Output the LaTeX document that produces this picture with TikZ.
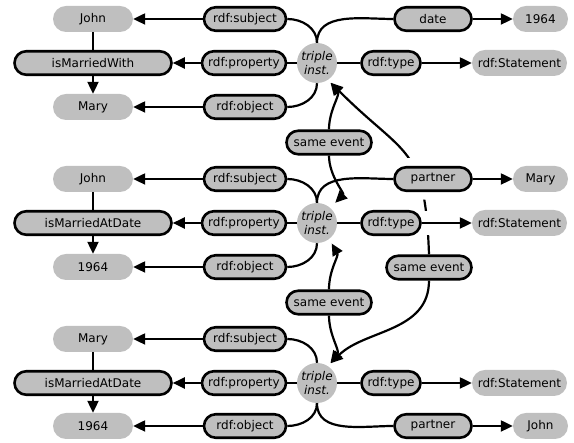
\documentclass[tikz,border=0pt]{standalone}
\usepackage{fontspec}
\setmainfont{DejaVu Sans}
\usetikzlibrary{arrows.meta}
\pgfdeclarelayer{back}
\pgfsetlayers{back,main}

\tikzset{
  base/.style={rectangle, fill=gray!50, text=black, inner sep=0pt,
    font=\fontsize{12}{14}\selectfont},
  val/.style={base, minimum height=26pt, rounded corners=13pt},
  rel/.style={base, draw=black, line width=2.6pt, minimum height=23.5pt,
    rounded corners=11.75pt},
  triple/.style={circle, fill=gray!50, minimum size=40pt, inner sep=0pt,
    align=center, font=\fontsize{12}{14.5}\selectfont\itshape},
  link/.style={line width=2.2pt, draw=black},
  arr/.style={link, -{Triangle[length=12pt,width=11pt]}},
  halo/.style={preaction={draw=white, line width=18pt}},
}

\begin{document}
\begin{tikzpicture}[x=1pt,y=1pt]
\useasboundingbox (0,0) rectangle (574,443);

% ---- statement 1: John isMarriedWith Mary
\node[val, minimum width=80pt]  (j1)  at (93,424)    {John};
\node[rel, minimum width=157pt] (p1)  at (93,380)    {isMarriedWith};
\node[val, minimum width=80pt]  (o1)  at (93,336)    {Mary};
\node[rel, minimum width=82pt]  (s1)  at (245,424)   {rdf:subject};
\node[rel, minimum width=84pt]  (pr1) at (244,380)   {rdf:property};
\node[rel, minimum width=82pt]  (ob1) at (245,336)   {rdf:object};
\node[triple]                   (t1)  at (317,380)   {triple\\inst.};
\node[rel, minimum width=59pt]  (ty1) at (391,380)   {rdf:type};
\node[val, minimum width=95pt]  (st1) at (519.5,380) {rdf:Statement};
\node[rel, minimum width=77pt]  (d1)  at (433,424)   {date};
\node[val, minimum width=55pt]  (dv1) at (540.5,424) {1964};

% ---- statement 2: John isMarriedAtDate 1964
\node[val, minimum width=80pt]  (j2)  at (93,264)    {John};
\node[rel, minimum width=157pt] (p2)  at (93,220)    {isMarriedAtDate};
\node[val, minimum width=80pt]  (o2)  at (93,176)    {1964};
\node[rel, minimum width=82pt]  (s2)  at (245,264)   {rdf:subject};
\node[rel, minimum width=84pt]  (pr2) at (244,220)   {rdf:property};
\node[rel, minimum width=82pt]  (ob2) at (245,176)   {rdf:object};
\node[triple]                   (t2)  at (317,220)   {triple\\inst.};
\node[rel, minimum width=59pt]  (ty2) at (391,220)   {rdf:type};
\node[val, minimum width=95pt]  (st2) at (519.5,220) {rdf:Statement};
\node[rel, halo, minimum width=77pt] (pa2) at (433,264) {partner};
\node[val, minimum width=55pt]  (m2)  at (540.5,264) {Mary};

% ---- statement 3: Mary isMarriedAtDate 1964
\node[val, minimum width=80pt]  (j3)  at (93,104)    {Mary};
\node[rel, minimum width=157pt] (p3)  at (93,60)     {isMarriedAtDate};
\node[val, minimum width=80pt]  (o3)  at (93,17)     {1964};
\node[rel, minimum width=82pt]  (s3)  at (245,104)   {rdf:subject};
\node[rel, minimum width=84pt]  (pr3) at (244,60)    {rdf:property};
\node[rel, minimum width=82pt]  (ob3) at (245,17)    {rdf:object};
\node[triple]                   (t3)  at (317,60)    {triple\\inst.};
\node[rel, minimum width=59pt]  (ty3) at (391,60)    {rdf:type};
\node[val, minimum width=95pt]  (st3) at (519.5,60)  {rdf:Statement};
\node[rel, minimum width=77pt]  (pa3) at (433,17)    {partner};
\node[val, minimum width=55pt]  (jj3) at (540.5,17)  {John};

% ---- "same event" links
\node[rel, minimum width=85pt] (se1) at (329,300.5) {same event};
\node[rel, minimum width=85pt] (se2) at (329,140.5) {same event};
\node[rel, minimum width=85pt] (se3) at (429,175.5) {same event};

% reified triple edges, one block at a time
\foreach \i in {1,2,3}{
  \draw[link] (j\i) -- (p\i);
  \draw[arr]  (p\i) -- (o\i);
  \draw[arr]  (s\i) -- (j\i);
  \draw[arr]  (pr\i) -- (p\i);
  \draw[arr]  (ob\i) -- (o\i);
  \draw[link] (s\i.east) to[out=0,in=90] (t\i.north);
  \draw[link] (pr\i) -- (t\i);
  \draw[link] (ob\i.east) to[out=0,in=-90] (t\i.south);
  \draw[link] (t\i) -- (ty\i);
  \draw[arr]  (ty\i) -- (st\i);
}
\draw[link] (t1.north) to[out=90,in=180] (d1.west);
\draw[arr]  (d1) -- (dv1);
\draw[link] (t2.north) to[out=90,in=180] (pa2.west);
\draw[arr]  (pa2) -- (m2);
\draw[link] (t3.south) to[out=-90,in=180] (pa3.west);
\draw[arr]  (pa3) -- (jj3);

% same event -> neighbouring triples
\draw[arr, shorten >=4pt] (se1.north) to[out=90,in=-50] (t1.-57);
\draw[arr, shorten >=7pt] (se1.south) to[out=-90,in=45] (t2.49);
\draw[arr, shorten >=5pt] (se2.north) to[out=90,in=-60] (t2.-53);
\draw[arr, shorten >=4pt] (se2.south) to[out=-90,in=52] (t3.57);
\draw[arr, shorten >=4pt] (se3.south) to[out=-90,in=45] (t3.57);

% long link passing behind the middle block
\begin{pgfonlayer}{back}
  \draw[arr, shorten >=4pt] (se3.north) to[out=92,in=-45,looseness=1.4] (t1.-57);
  \draw[white, line width=24pt] (ty2.east) -- (st2.west);
\end{pgfonlayer}
\end{tikzpicture}
\end{document}
